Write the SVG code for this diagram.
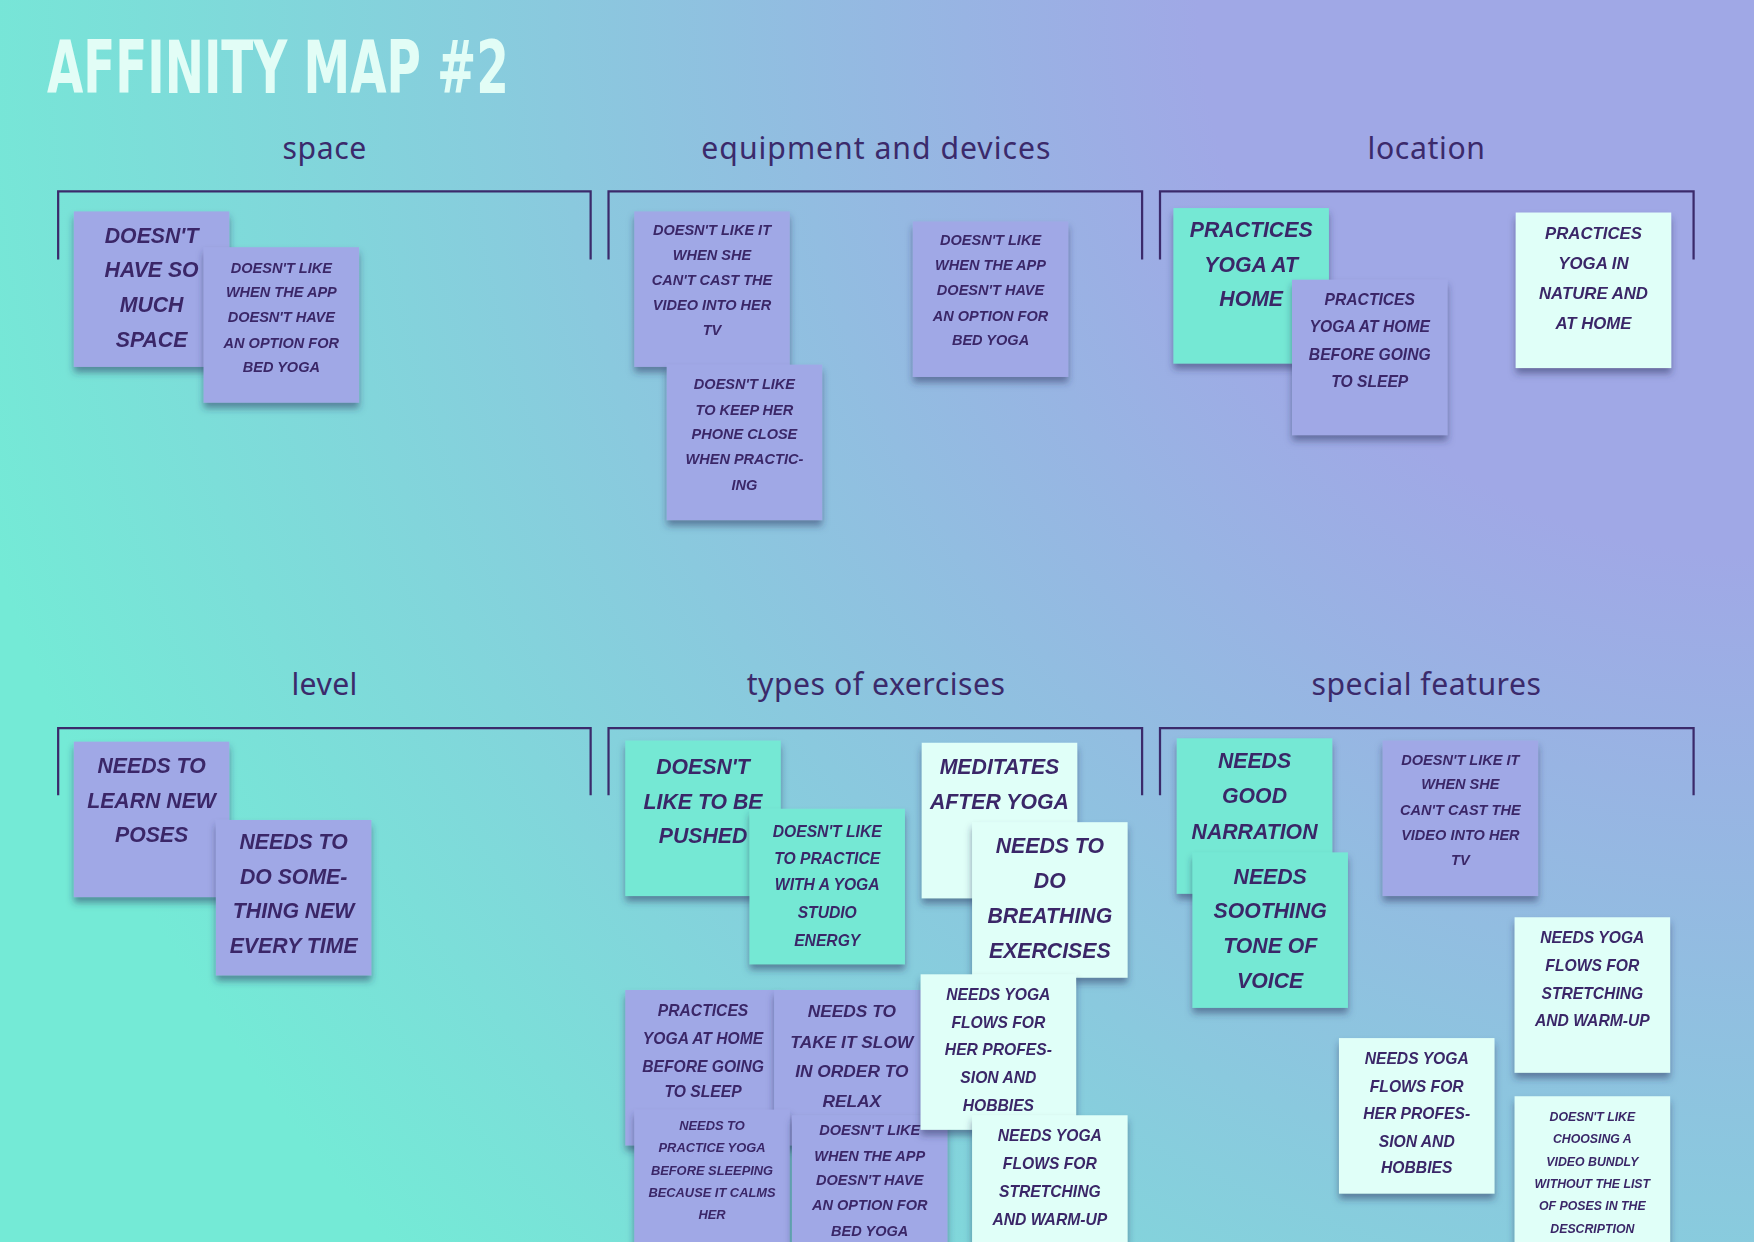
<svg xmlns="http://www.w3.org/2000/svg" width="1754" height="1242" viewBox="0 0 1754 1242">
<defs>
<radialGradient id="bg" gradientUnits="userSpaceOnUse" cx="1754" cy="0" r="1846">
<stop offset="0" stop-color="#a0a8e6"/>
<stop offset="0.3" stop-color="#a0a8e6"/>
<stop offset="1" stop-color="#74ead6"/>
</radialGradient>
<filter id="sh" x="-20%" y="-20%" width="140%" height="150%">
<feDropShadow dx="0" dy="5" stdDeviation="3.5" flood-color="#2a2d5c" flood-opacity="0.5"/>
</filter>
<style>
.title{font-family:"DejaVu Sans Condensed","DejaVu Sans",sans-serif;font-weight:bold;fill:#e2fdf6}
.cat{font-family:"Noto Sans","Open Sans",sans-serif;font-size:27px;fill:#3b2a6b;text-anchor:middle}
.br{fill:none;stroke:#3b2a6b;stroke-width:2}
.p{fill:#a0a8e6}
.t{fill:#74e8d4}
.l{fill:#e0fff8}
.n{font-family:"Liberation Sans",Arial,sans-serif;font-weight:bold;font-style:italic;fill:#3a2868;text-anchor:middle}
</style>
</defs>
<rect x="0" y="0" width="1754" height="1242" fill="url(#bg)"/>
<g transform="scale(1.11862)">
<g id="title"><text class="title" x="42" y="83" font-size="66" textLength="413" lengthAdjust="spacingAndGlyphs">AFFINITY MAP #2</text></g>

<g id="categories">
<text class="cat" x="290" y="142" textLength="75">space</text>
<text class="cat" x="783" y="142" textLength="312">equipment and devices</text>
<text class="cat" x="1275" y="142" textLength="105">location</text>
<text class="cat" x="290" y="621" textLength="59">level</text>
<text class="cat" x="783" y="621" textLength="231">types of exercises</text>
<text class="cat" x="1275" y="621" textLength="205">special features</text>
</g>

<g id="connectors">
<path class="br" d="M52,232 V171 H528 V232"/>
<path class="br" d="M544,232 V171 H1021 V232"/>
<path class="br" d="M1037,232 V171 H1514 V232"/>
<path class="br" d="M52,711 V651 H528 V711"/>
<path class="br" d="M544,711 V651 H1021 V711"/>
<path class="br" d="M1037,711 V651 H1514 V711"/>
</g>

<!-- space -->
<g id="n1" filter="url(#sh)"><rect class="p" x="66" y="189" width="139" height="139"/>
<text class="n" font-size="19"><tspan x="135.5" y="217">DOESN'T</tspan><tspan x="135.5" y="248">HAVE SO</tspan><tspan x="135.5" y="279">MUCH</tspan><tspan x="135.5" y="310">SPACE</tspan></text></g>
<g id="n2" filter="url(#sh)"><rect class="p" x="182" y="221" width="139" height="139"/>
<text class="n" font-size="13"><tspan x="251.5" y="243.7">DOESN'T LIKE</tspan><tspan x="251.5" y="265.7">WHEN THE APP</tspan><tspan x="251.5" y="287.7">DOESN'T HAVE</tspan><tspan x="251.5" y="310.7">AN OPTION FOR</tspan><tspan x="251.5" y="332.7">BED YOGA</tspan></text></g>

<!-- equipment -->
<g id="n3" filter="url(#sh)"><rect class="p" x="567" y="189" width="139" height="139"/>
<text class="n" font-size="13"><tspan x="636.5" y="209.7">DOESN'T LIKE IT</tspan><tspan x="636.5" y="232.7">WHEN SHE</tspan><tspan x="636.5" y="254.7">CAN'T CAST THE</tspan><tspan x="636.5" y="276.7">VIDEO INTO HER</tspan><tspan x="636.5" y="299.7">TV</tspan></text></g>
<g id="n4" filter="url(#sh)"><rect class="p" x="596" y="326" width="139" height="139"/>
<text class="n" font-size="13"><tspan x="665.5" y="347.7">DOESN'T LIKE</tspan><tspan x="665.5" y="370.7">TO KEEP HER</tspan><tspan x="665.5" y="392.7">PHONE CLOSE</tspan><tspan x="665.5" y="414.7">WHEN PRACTIC-</tspan><tspan x="665.5" y="437.7">ING</tspan></text></g>
<g id="n5" filter="url(#sh)"><rect class="p" x="816" y="198" width="139" height="139"/>
<text class="n" font-size="13"><tspan x="885.5" y="218.7">DOESN'T LIKE</tspan><tspan x="885.5" y="241.7">WHEN THE APP</tspan><tspan x="885.5" y="263.7">DOESN'T HAVE</tspan><tspan x="885.5" y="286.7">AN OPTION FOR</tspan><tspan x="885.5" y="308.7">BED YOGA</tspan></text></g>

<!-- location -->
<g id="n6" filter="url(#sh)"><rect class="t" x="1049" y="186" width="139" height="139"/>
<text class="n" font-size="19"><tspan x="1118.5" y="212">PRACTICES</tspan><tspan x="1118.5" y="243">YOGA AT</tspan><tspan x="1118.5" y="274">HOME</tspan></text></g>
<g id="n7" filter="url(#sh)"><rect class="p" x="1155" y="250" width="139" height="139"/>
<text class="n" font-size="14"><tspan x="1224.5" y="273">PRACTICES</tspan><tspan x="1224.5" y="297">YOGA AT HOME</tspan><tspan x="1224.5" y="322">BEFORE GOING</tspan><tspan x="1224.5" y="346">TO SLEEP</tspan></text></g>
<g id="n8" filter="url(#sh)"><rect class="l" x="1355" y="190" width="139" height="139"/>
<text class="n" font-size="15"><tspan x="1424.5" y="213.4">PRACTICES</tspan><tspan x="1424.5" y="240.4">YOGA IN</tspan><tspan x="1424.5" y="267.4">NATURE AND</tspan><tspan x="1424.5" y="294.4">AT HOME</tspan></text></g>

<!-- level -->
<g id="n9" filter="url(#sh)"><rect class="p" x="66" y="663" width="139" height="139"/>
<text class="n" font-size="19"><tspan x="135.5" y="691">NEEDS TO</tspan><tspan x="135.5" y="722">LEARN NEW</tspan><tspan x="135.5" y="753">POSES</tspan></text></g>
<g id="n10" filter="url(#sh)"><rect class="p" x="193" y="733" width="139" height="139"/>
<text class="n" font-size="19"><tspan x="262.5" y="759">NEEDS TO</tspan><tspan x="262.5" y="790">DO SOME-</tspan><tspan x="262.5" y="821">THING NEW</tspan><tspan x="262.5" y="852">EVERY TIME</tspan></text></g>

<!-- types of exercises -->
<g id="n11" filter="url(#sh)"><rect class="t" x="559" y="662" width="139" height="139"/>
<text class="n" font-size="19"><tspan x="628.5" y="691.5">DOESN'T</tspan><tspan x="628.5" y="723">LIKE TO BE</tspan><tspan x="628.5" y="753.5">PUSHED</tspan></text></g>
<g id="n12" filter="url(#sh)"><rect class="t" x="670" y="723" width="139" height="139"/>
<text class="n" font-size="14"><tspan x="739.5" y="748">DOESN'T LIKE</tspan><tspan x="739.5" y="772">TO PRACTICE</tspan><tspan x="739.5" y="796">WITH A YOGA</tspan><tspan x="739.5" y="821">STUDIO</tspan><tspan x="739.5" y="846">ENERGY</tspan></text></g>
<g id="n13" filter="url(#sh)"><rect class="l" x="824" y="664" width="139" height="139"/>
<text class="n" font-size="19"><tspan x="893.5" y="691.5">MEDITATES</tspan><tspan x="893.5" y="723">AFTER YOGA</tspan></text></g>
<g id="n14" filter="url(#sh)"><rect class="l" x="869" y="735" width="139" height="139"/>
<text class="n" font-size="19"><tspan x="938.5" y="763">NEEDS TO</tspan><tspan x="938.5" y="794">DO</tspan><tspan x="938.5" y="825">BREATHING</tspan><tspan x="938.5" y="856">EXERCISES</tspan></text></g>
<g id="n15" filter="url(#sh)"><rect class="p" x="559" y="885" width="139" height="139"/>
<text class="n" font-size="14"><tspan x="628.5" y="908">PRACTICES</tspan><tspan x="628.5" y="933">YOGA AT HOME</tspan><tspan x="628.5" y="958">BEFORE GOING</tspan><tspan x="628.5" y="981">TO SLEEP</tspan></text></g>
<g id="n16" filter="url(#sh)"><rect class="p" x="692" y="885" width="139" height="139"/>
<text class="n" font-size="15.5"><tspan x="761.5" y="909.5">NEEDS TO</tspan><tspan x="761.5" y="936.5">TAKE IT SLOW</tspan><tspan x="761.5" y="962.5">IN ORDER TO</tspan><tspan x="761.5" y="989.5">RELAX</tspan></text></g>
<g id="n18" filter="url(#sh)"><rect class="p" x="567" y="992" width="139" height="139"/>
<text class="n" font-size="11.5"><tspan x="636.5" y="1010">NEEDS TO</tspan><tspan x="636.5" y="1030">PRACTICE YOGA</tspan><tspan x="636.5" y="1050">BEFORE SLEEPING</tspan><tspan x="636.5" y="1070">BECAUSE IT CALMS</tspan><tspan x="636.5" y="1090">HER</tspan></text></g>
<g id="n19" filter="url(#sh)"><rect class="p" x="708" y="997" width="139" height="139"/>
<text class="n" font-size="13"><tspan x="777.5" y="1014.7">DOESN'T LIKE</tspan><tspan x="777.5" y="1037.7">WHEN THE APP</tspan><tspan x="777.5" y="1059.7">DOESN'T HAVE</tspan><tspan x="777.5" y="1081.7">AN OPTION FOR</tspan><tspan x="777.5" y="1104.7">BED YOGA</tspan></text></g>
<g id="n17" filter="url(#sh)"><rect class="l" x="823" y="871" width="139" height="139"/>
<text class="n" font-size="14"><tspan x="892.5" y="894">NEEDS YOGA</tspan><tspan x="892.5" y="919">FLOWS FOR</tspan><tspan x="892.5" y="943">HER PROFES-</tspan><tspan x="892.5" y="968">SION AND</tspan><tspan x="892.5" y="993">HOBBIES</tspan></text></g>
<g id="n20" filter="url(#sh)"><rect class="l" x="869" y="997" width="139" height="139"/>
<text class="n" font-size="14"><tspan x="938.5" y="1020">NEEDS YOGA</tspan><tspan x="938.5" y="1045">FLOWS FOR</tspan><tspan x="938.5" y="1070">STRETCHING</tspan><tspan x="938.5" y="1095">AND WARM-UP</tspan></text></g>

<!-- special features -->
<g id="n21" filter="url(#sh)"><rect class="t" x="1052" y="660" width="139" height="139"/>
<text class="n" font-size="19"><tspan x="1121.5" y="687">NEEDS</tspan><tspan x="1121.5" y="718">GOOD</tspan><tspan x="1121.5" y="750">NARRATION</tspan></text></g>
<g id="n22" filter="url(#sh)"><rect class="t" x="1066" y="762" width="139" height="139"/>
<text class="n" font-size="19"><tspan x="1135.5" y="790">NEEDS</tspan><tspan x="1135.5" y="821">SOOTHING</tspan><tspan x="1135.5" y="852">TONE OF</tspan><tspan x="1135.5" y="883">VOICE</tspan></text></g>
<g id="n23" filter="url(#sh)"><rect class="p" x="1236" y="662" width="139" height="139"/>
<text class="n" font-size="13"><tspan x="1305.5" y="683.7">DOESN'T LIKE IT</tspan><tspan x="1305.5" y="705.7">WHEN SHE</tspan><tspan x="1305.5" y="728.7">CAN'T CAST THE</tspan><tspan x="1305.5" y="750.7">VIDEO INTO HER</tspan><tspan x="1305.5" y="773.7">TV</tspan></text></g>
<g id="n24" filter="url(#sh)"><rect class="l" x="1354" y="820" width="139" height="139"/>
<text class="n" font-size="14"><tspan x="1423.5" y="843">NEEDS YOGA</tspan><tspan x="1423.5" y="868">FLOWS FOR</tspan><tspan x="1423.5" y="893">STRETCHING</tspan><tspan x="1423.5" y="917">AND WARM-UP</tspan></text></g>
<g id="n25" filter="url(#sh)"><rect class="l" x="1197" y="928" width="139" height="139"/>
<text class="n" font-size="14"><tspan x="1266.5" y="951">NEEDS YOGA</tspan><tspan x="1266.5" y="976">FLOWS FOR</tspan><tspan x="1266.5" y="1000">HER PROFES-</tspan><tspan x="1266.5" y="1025">SION AND</tspan><tspan x="1266.5" y="1049">HOBBIES</tspan></text></g>
<g id="n26" filter="url(#sh)"><rect class="l" x="1354" y="980" width="139" height="139"/>
<text class="n" font-size="11"><tspan x="1423.5" y="1002">DOESN'T LIKE</tspan><tspan x="1423.5" y="1022">CHOOSING A</tspan><tspan x="1423.5" y="1042">VIDEO BUNDLY</tspan><tspan x="1423.5" y="1062">WITHOUT THE LIST</tspan><tspan x="1423.5" y="1082">OF POSES IN THE</tspan><tspan x="1423.5" y="1102">DESCRIPTION</tspan></text></g>
</g>
</svg>
